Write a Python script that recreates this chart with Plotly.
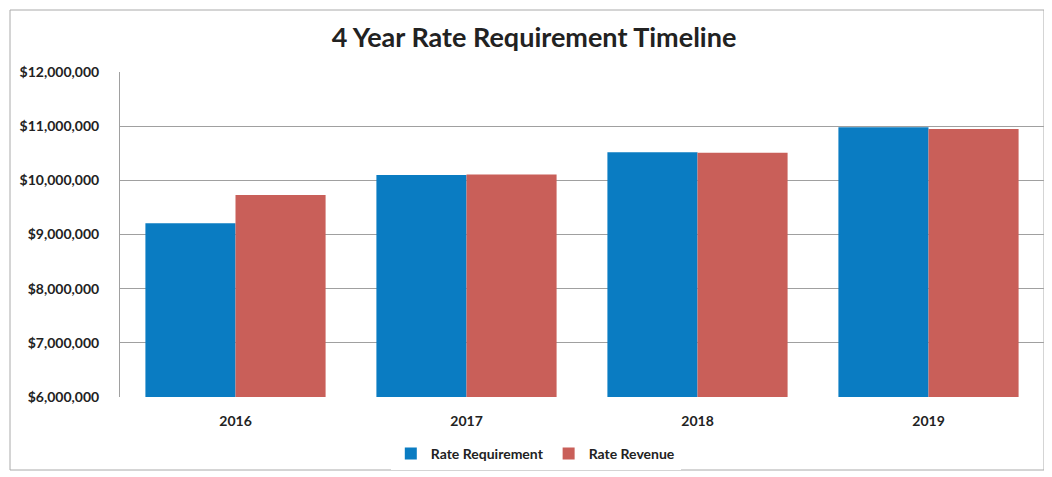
import plotly.graph_objects as go

years = ["2016", "2017", "2018", "2019"]
rate_requirement = [9210000, 10100000, 10520000, 10980000]
rate_revenue = [9730000, 10110000, 10510000, 10950000]
tick_vals = [6000000, 7000000, 8000000, 9000000, 10000000, 11000000, 12000000]
tick_text = ["$6,000,000", "$7,000,000", "$8,000,000", "$9,000,000",
             "$10,000,000", "$11,000,000", "$12,000,000"]

font_family = "Lato, Open Sans, sans-serif"

fig = go.Figure()
fig.add_trace(go.Bar(name="<b>Rate Requirement</b>", x=years, y=rate_requirement,
                     marker=dict(color="#0a7cc2", line=dict(width=0))))
fig.add_trace(go.Bar(name="<b>Rate Revenue</b>", x=years, y=rate_revenue,
                     marker=dict(color="#c95f59", line=dict(width=0))))

fig.update_layout(
    width=1052, height=477,
    paper_bgcolor="white", plot_bgcolor="white",
    margin=dict(l=112, r=16, t=64, b=88),
    barmode="group", bargap=0.22, bargroupgap=0,
    title=dict(text="<b>4 Year Rate Requirement Timeline</b>", x=0.5, xanchor="center",
               y=1 - 30 / 477, yanchor="middle",
               font=dict(family=font_family, size=27, color="#222222")),
    font=dict(family=font_family, color="#222222"),
    legend=dict(orientation="h", x=0.45, xanchor="center", y=-0.175, yanchor="middle",
                font=dict(size=14, family=font_family, color="#222222"),
                itemwidth=30, traceorder="normal"),
    xaxis=dict(tickfont=dict(size=14, family=font_family), showline=False,
               ticks="", ticklabelstandoff=14,
               tickprefix="<b>", ticksuffix="</b>"),
    yaxis=dict(range=[6000000, 12000000], tickvals=tick_vals,
               ticktext=["<b>" + t + "</b>" for t in tick_text],
               tickfont=dict(size=14, family=font_family),
               showgrid=True, gridcolor="#a0a0a0", gridwidth=1,
               showline=True, linecolor="#a0a0a0", zeroline=False,
               ticks="", ticklabelstandoff=17),
    shapes=[dict(type="rect", xref="paper", yref="paper",
                 x0=-110 / 924, x1=1.0, y0=-73 / 325, y1=1 + 62 / 325,
                 line=dict(color="#aaaaaa", width=1))],
)

fig.write_html("out.html")
